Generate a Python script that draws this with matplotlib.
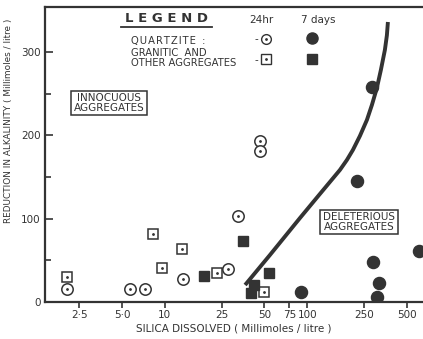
import matplotlib
matplotlib.use("Agg")
import matplotlib.pyplot as plt
import numpy as np

# ---- data ----
quartz_24h_x = [2.06, 5.7, 7.3, 13.4, 27.8, 32.7, 46.6, 46.6]
quartz_24h_y = [16, 15.6, 16, 28, 40, 103, 193, 181]

granitic_24h_x = [2.06, 8.3, 9.6, 13.2, 23.2, 49.7]
granitic_24h_y = [30, 82, 41, 64, 35, 12]

quartz_7d_x = [90, 223, 284, 289, 318, 308, 608]
quartz_7d_y = [12, 145, 258, 48, 23, 6, 61]

granitic_7d_x = [18.8, 35.4, 53.8, 40.3, 42.0]
granitic_7d_y = [31, 73, 35, 11, 20]

curve_x = [36.6, 54.7, 88.9, 122.8, 169.7, 190, 209.3, 234.4, 262.5, 284.6, 308.5, 329, 351, 362.5, 368.5]
curve_y = [20.4, 56.4, 100.8, 129.7, 158.5, 170.5, 182.5, 199.3, 218.5, 236.5, 257, 278.5, 302.5, 320, 336]

xticks = [2.5, 5.0, 10, 25, 50, 75, 100, 250, 500]
xticklabels = ["2·5", "5·0", "10", "25", "50", "75", "100", "250", "500"]
yticks = [0, 100, 200, 300]
yminor = [50, 150, 250]

ink = "#333333"

fig = plt.figure(figsize=(4.23, 3.39), dpi=100)
ax = fig.add_axes([45/423, 37/339, 378/423, 295/339])
ax.set_xscale("log")
ax.set_xlim(1.44, 650)
ax.set_ylim(0, 354)

# curve
ax.plot(curve_x, curve_y, color=ink, lw=2.8, solid_capstyle="butt", solid_joinstyle="round")

ms = 8.2
# 24 hr open markers with centre dot
ax.plot(quartz_24h_x, quartz_24h_y, 'o', ms=ms, mfc="white", mec=ink, mew=1.1, ls="none")
ax.plot(quartz_24h_x, quartz_24h_y, '.', ms=2, color=ink, ls="none")
ax.plot(granitic_24h_x, granitic_24h_y, 's', ms=ms-0.6, mfc="white", mec=ink, mew=1.1, ls="none")
ax.plot(granitic_24h_x, granitic_24h_y, '.', ms=2, color=ink, ls="none")
# 7 day filled markers
ax.plot(quartz_7d_x, quartz_7d_y, 'o', ms=ms+0.5, color=ink, ls="none")
ax.plot(granitic_7d_x, granitic_7d_y, 's', ms=ms-0.4, color=ink, ls="none")

# axes styling
ax.spines["right"].set_visible(False)
for s in ["left", "bottom", "top"]:
    ax.spines[s].set_linewidth(1.6)
    ax.spines[s].set_color(ink)
ax.set_xticks(xticks)
ax.set_xticklabels(xticklabels)
ax.xaxis.set_minor_locator(matplotlib.ticker.NullLocator())
ax.set_yticks(yticks)
ax.set_yticks(yminor, minor=True)
ax.tick_params(axis="x", direction="out", length=4, width=1.2, colors=ink, labelsize=7.5, pad=2)
ax.tick_params(axis="y", which="major", direction="in", length=6, width=1.2, colors=ink, labelsize=7.5, pad=3)
ax.tick_params(axis="y", which="minor", direction="in", length=4, width=1.2, colors=ink)

def fx(px):
    return (px - 45) / 378
def fy(py):
    return (302 - py) / 295

ax.set_xlabel("SILICA DISSOLVED ( Millimoles / litre )", fontsize=7.5, color=ink, labelpad=2)
ax.set_ylabel("REDUCTION IN ALKALINITY ( Millimoles / litre )", fontsize=6.4, color=ink, labelpad=6)
ax.yaxis.set_label_coords(-0.085, fy(121))

T = ax.transAxes
hs = "\u200a"
# legend block
ax.text(fx(166), fy(18), "L E G E N D", transform=T, ha="center", va="center",
        fontsize=9.5, fontweight="bold", color=ink)
ax.plot([fx(121), fx(212)], [fy(27), fy(27)], transform=T, color=ink, lw=1.3, clip_on=False)
ax.text(fx(131), fy(41), hs.join("QUARTZITE") + "  :", transform=T, ha="left", va="center",
        fontsize=7.2, color=ink)
ax.text(fx(131), fy(58), "GRANITIC  AND\nOTHER AGGREGATES", transform=T, ha="left", va="center",
        fontsize=7.2, color=ink, linespacing=0.92)
ax.text(fx(261), fy(20), "24hr", transform=T, ha="center", va="center", fontsize=7.5, color=ink)
ax.text(fx(318), fy(20), "7 days", transform=T, ha="center", va="center", fontsize=7.5, color=ink)
ax.text(fx(256), fy(39), "-", transform=T, ha="center", va="center", fontsize=7.5, color=ink)
ax.text(fx(256), fy(60), "-", transform=T, ha="center", va="center", fontsize=7.5, color=ink)
ax.plot([fx(266)], [fy(39)], 'o', ms=7, mfc="white", mec=ink, mew=1.0, transform=T)
ax.plot([fx(266)], [fy(39)], '.', ms=2, color=ink, transform=T)
ax.plot([fx(266)], [fy(59)], 's', ms=6.5, mfc="white", mec=ink, mew=1.0, transform=T)
ax.plot([fx(266)], [fy(59)], '.', ms=2, color=ink, transform=T)
ax.plot([fx(312)], [fy(38)], 'o', ms=8, color=ink, transform=T)
ax.plot([fx(312)], [fy(59)], 's', ms=7, color=ink, transform=T)

# region boxes
box = dict(boxstyle="square,pad=0.25", fc="white", ec=ink, lw=1.1)
ax.text(fx(109), fy(103), "INNOCUOUS\nAGGREGATES", transform=T, ha="center", va="center",
        fontsize=7.5, color=ink, bbox=box, linespacing=0.95)
ax.text(fx(359), fy(222), "DELETERIOUS\nAGGREGATES", transform=T, ha="center", va="center",
        fontsize=7.5, color=ink, bbox=box, linespacing=0.95)

fig.savefig("out.png", dpi=100)
